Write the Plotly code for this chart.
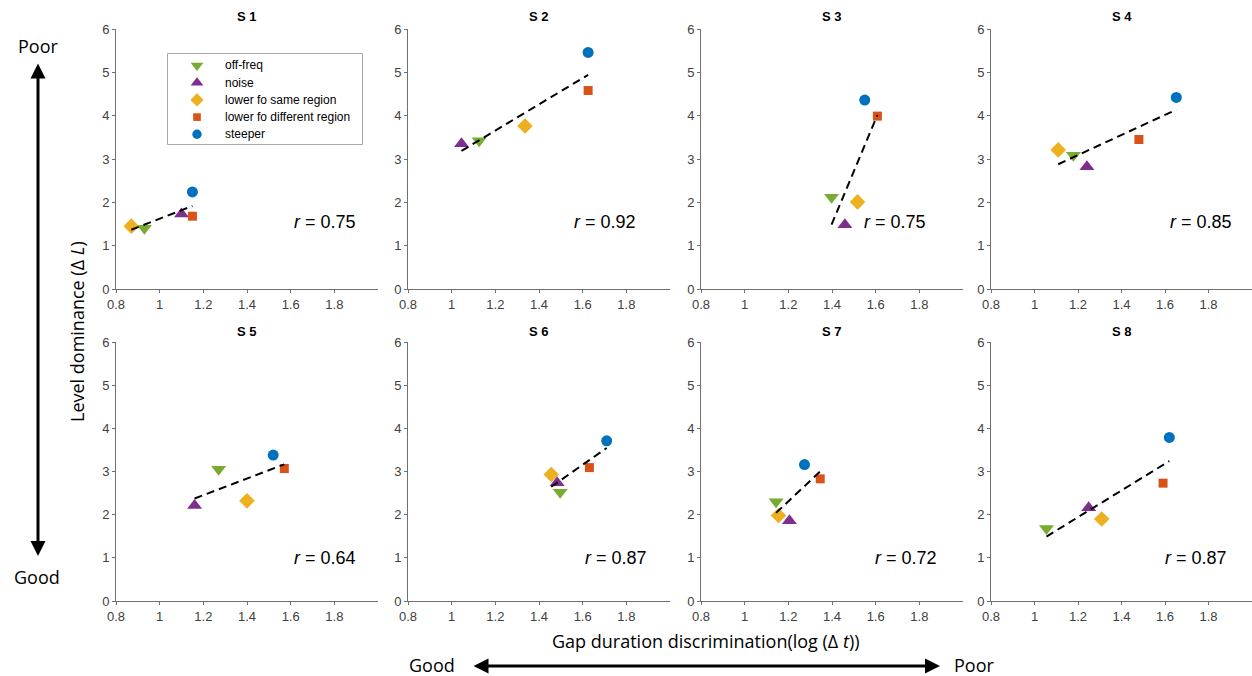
import numpy as np
import plotly.graph_objects as go

W, H = 1252, 676

subjects = ["S 1", "S 2", "S 3", "S 4", "S 5", "S 6", "S 7", "S 8"]
r_labels = ["0.75", "0.92", "0.75", "0.85", "0.64", "0.87", "0.72", "0.87"]

off_freq_x = [0.93, 1.126, 1.398, 1.179, 1.27, 1.497, 1.144, 1.055]
off_freq_y = [1.40, 3.42, 2.12, 3.085, 3.05, 2.52, 2.30, 1.68]
noise_x = [1.10, 1.045, 1.459, 1.241, 1.16, 1.483, 1.205, 1.249]
noise_y = [1.73, 3.35, 1.48, 2.82, 2.21, 2.74, 1.86, 2.16]
same_region_x = [0.87, 1.336, 1.517, 1.109, 1.40, 1.456, 1.155, 1.309]
same_region_y = [1.45, 3.76, 2.01, 3.21, 2.32, 2.93, 1.98, 1.90]
diff_region_x = [1.15, 1.625, 1.608, 1.48, 1.571, 1.631, 1.346, 1.591]
diff_region_y = [1.68, 4.58, 3.99, 3.45, 3.07, 3.09, 2.83, 2.73]
steeper_x = [1.15, 1.625, 1.55, 1.652, 1.52, 1.71, 1.274, 1.62]
steeper_y = [2.24, 5.46, 4.36, 4.42, 3.38, 3.71, 3.16, 3.79]

x_ticks = [0.8, 1.0, 1.2, 1.4, 1.6, 1.8]
x_ticktext = ["0.8", "1", "1.2", "1.4", "1.6", "1.8"]
y_ticks = [0, 1, 2, 3, 4, 5, 6]

conditions = [
    ("off-freq", off_freq_x, off_freq_y, "triangle-down", "#77AC30", 13),
    ("noise", noise_x, noise_y, "triangle-up", "#7E2F8E", 13),
    ("lower fo same region", same_region_x, same_region_y, "diamond", "#EDB120", 12),
    ("lower fo different region", diff_region_x, diff_region_y, "square", "#D95319", 9),
    ("steeper", steeper_x, steeper_y, "circle", "#0072BD", 11),
]

# layout geometry (pixels)
col_px = [(116, 378), (408, 670), (701, 963), (991, 1252)]
row_px = [(29, 289), (342, 601)]
title_y_px = [16, 331]
r_x = [1.607, 1.552, 1.539, 1.612, 1.607, 1.603, 1.589, 1.589]
r_y = [1.55, 1.55, 1.55, 1.55, 1.0, 1.0, 1.0, 1.0]
legend_box = (168, 54, 362, 144)  # left, top, right, bottom (px)

fig = go.Figure()
annotations = []
shapes = []
tick_font = dict(family="Liberation Sans, Arial", size=13, color="#404040")

for i in range(8):
    n = i + 1
    xa = "x" if n == 1 else f"x{n}"
    ya = "y" if n == 1 else f"y{n}"
    for name, xs, ys, sym, col, sz in conditions:
        fig.add_trace(go.Scatter(
            x=[xs[i]], y=[ys[i]], mode="markers", name=name,
            marker=dict(symbol=sym, color=col, size=sz, line=dict(width=0)),
            showlegend=False, xaxis=xa, yaxis=ya,
        ))
    allx = np.array([c[1][i] for c in conditions])
    ally = np.array([c[2][i] for c in conditions])
    slope, icpt = np.polyfit(allx, ally, 1)
    lx = np.array([allx.min(), allx.max()])
    fig.add_trace(go.Scatter(
        x=lx, y=slope * lx + icpt, mode="lines",
        line=dict(color="black", width=2, dash="8px,5px"),
        showlegend=False, hoverinfo="skip", xaxis=xa, yaxis=ya,
    ))
    r, c = divmod(i, 4)
    x0, x1 = col_px[c]
    y0, y1 = row_px[r]
    axis_common = dict(showgrid=False, zeroline=False, showline=True,
                       linecolor="#707070", linewidth=1, ticks="outside",
                       ticklen=3, tickcolor="#707070", tickfont=tick_font,
                       automargin=False)
    fig.layout[f"xaxis{n}"] = dict(domain=[x0 / W, x1 / W], range=[0.8, 2.0],
                                   tickvals=x_ticks, ticktext=x_ticktext,
                                   anchor=ya, **axis_common)
    fig.layout[f"yaxis{n}"] = dict(domain=[1 - y1 / H, 1 - y0 / H], range=[0, 6],
                                   tickvals=y_ticks, anchor=xa, **axis_common)
    annotations.append(dict(
        x=(x0 + x1) / 2 / W, y=1 - title_y_px[r] / H, xref="paper", yref="paper",
        text=f"<b>{subjects[i]}</b>", showarrow=False,
        font=dict(family="Liberation Sans, Arial", size=13, color="black"),
        xanchor="center", yanchor="middle"))
    annotations.append(dict(
        x=r_x[i], y=r_y[i], xref=xa, yref=ya,
        text=f"<i>r</i> = {r_labels[i]}", showarrow=False,
        font=dict(family="Liberation Sans, Arial", size=18, color="black"),
        xanchor="left", yanchor="middle"))

# manual legend (drawn in its own pixel-scaled axes)
lx0, ly0, lx1, ly1 = legend_box
fig.layout["xaxis9"] = dict(domain=[lx0 / W, lx1 / W], range=[0, lx1 - lx0],
                            visible=False, fixedrange=True, anchor="y9")
fig.layout["yaxis9"] = dict(domain=[1 - ly1 / H, 1 - ly0 / H], range=[ly1 - ly0, 0],
                            visible=False, fixedrange=True, anchor="x9")
shapes.append(dict(type="rect", xref="paper", yref="paper",
                   x0=lx0 / W, x1=lx1 / W, y0=1 - ly1 / H, y1=1 - ly0 / H,
                   line=dict(color="#8a8a8a", width=1.5), fillcolor="white",
                   layer="below"))
row_off = [11.5, 28.7, 45.9, 63.1, 80.3]
for k, (name, xs, ys, sym, col, sz) in enumerate(conditions):
    fig.add_trace(go.Scatter(
        x=[29], y=[row_off[k]], mode="markers", name=name,
        marker=dict(symbol=sym, color=col, size=sz * 0.85, line=dict(width=0)),
        showlegend=False, hoverinfo="skip", xaxis="x9", yaxis="y9"))
    annotations.append(dict(
        x=55, y=row_off[k], xref="x9", yref="y9", text=name, showarrow=False,
        font=dict(family="Liberation Sans, Arial", size=12, color="black"),
        xanchor="left", yanchor="middle"))

label_font = dict(family="Open Sans", size=18, color="black")


def txt(xp, yp, text, angle=0):
    return dict(x=xp / W, y=1 - yp / H, xref="paper", yref="paper", text=text,
                showarrow=False, font=label_font, textangle=angle,
                xanchor="center", yanchor="middle")


def arrow(xp, yp, ax, ay):
    return dict(x=xp / W, y=1 - yp / H, xref="paper", yref="paper", text="",
                showarrow=True, ax=ax, ay=ay, arrowside="end+start", arrowhead=2,
                arrowsize=1, arrowwidth=3, arrowcolor="black",
                xanchor="center", yanchor="middle")


annotations += [
    txt(77, 332, "Level dominance (Δ <i>L</i>)", -90),
    txt(38, 46, "Poor"),
    txt(37, 577, "Good"),
    arrow(38, 556, 0, -494),
    txt(706, 641, "Gap duration discrimination(log (Δ <i>t</i>))"),
    txt(432, 665, "Good"),
    txt(974, 665, "Poor"),
    arrow(940, 666, -468, 0),
]

fig.update_layout(
    width=W, height=H, autosize=False,
    margin=dict(l=0, r=0, t=0, b=0, autoexpand=False),
    paper_bgcolor="white", plot_bgcolor="white",
    annotations=annotations, shapes=shapes,
    showlegend=False,
)

fig.write_html("out.html")
